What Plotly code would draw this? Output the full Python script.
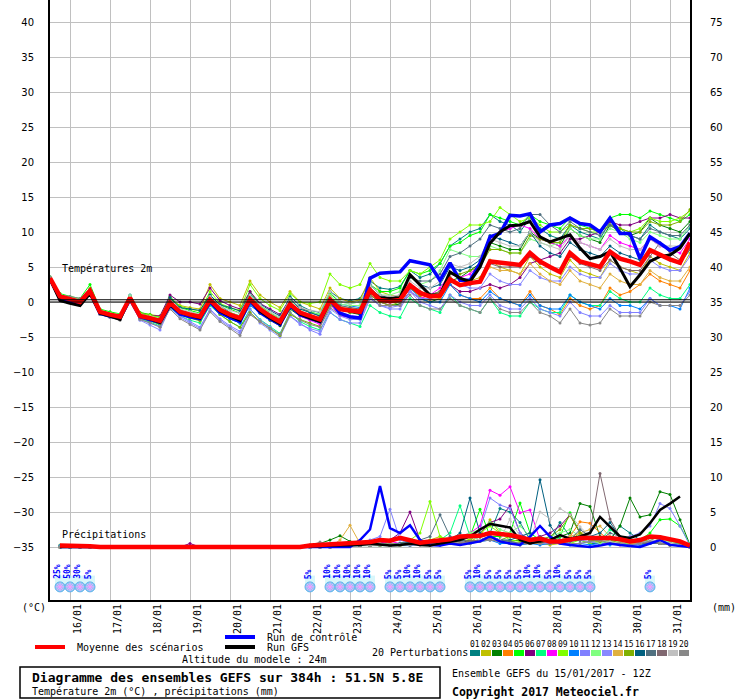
import plotly.graph_objects as go

# time axis: hours since 15/01/2017 12Z, one step every 6h up to 384h
hours = list(range(0, 385, 6))
precip_hours = hours[1:]

day_hours = [12, 36, 60, 84, 108, 132, 156, 180, 204, 228, 252, 276, 300, 324, 348, 372]
day_labels = ["16/01", "17/01", "18/01", "19/01", "20/01", "21/01", "22/01", "23/01",
              "24/01", "25/01", "26/01", "27/01", "28/01", "29/01", "30/01", "31/01"]

temp_ticks = [-35, -30, -25, -20, -15, -10, -5, 0, 5, 10, 15, 20, 25, 30, 35, 40]
mm_ticks = [0, 5, 10, 15, 20, 25, 30, 35, 40, 45, 50, 55, 60, 65, 70, 75]

pert_names = ["01", "02", "03", "04", "05", "06", "07", "08", "09", "10",
              "11", "12", "13", "14", "15", "16", "17", "18", "19", "20"]
pert_colors = ["#008080", "#c0c000", "#008000", "#ff8000", "#00ff00", "#800080", "#00ff80",
               "#ff00ff", "#80ff00", "#0080ff", "#8080ff", "#80ff80", "#8888ff", "#e0b040",
               "#80b000", "#006080", "#507080", "#806870", "#c0c0c0", "#888888"]

# snow probability icons
snow_hours = [6, 12, 18, 24, 156, 168, 174, 180, 186, 192, 204, 210, 216, 222, 228, 234,
              252, 258, 264, 270, 276, 282, 288, 294, 300, 306, 312, 318, 324, 360]
snow_pct = [25, 50, 30, 5, 5, 10, 10, 10, 10, 10, 5, 5, 10, 10, 5, 5,
            5, 10, 5, 5, 5, 5, 10, 10, 5, 10, 5, 5, 5, 5]

# ---- temperature 2m (degC) ----
t_mean = [3.4,
          0.8, 0.4, 0.0, 1.6, -1.4, -1.8, -2.1, 0.6, -2.0, -2.3, -2.7, -0.1, -1.4, -1.8, -2.1, 0.3,
          -1.1, -1.8, -2.3, 0.4, -1.0, -2.0, -2.8, -0.3, -1.5, -2.0, -2.5, 0.3, -1.0, -1.2, -1.4, 1.7,
          0.3, 0.1, 0.3, 2.4, 1.3, 0.8, 0.9, 3.2, 2.4, 2.7, 2.9, 5.8, 5.6, 5.4, 5.3, 7.0,
          5.8, 5.0, 4.3, 7.0, 5.8, 5.4, 5.0, 7.2, 6.2, 5.8, 5.3, 7.4, 6.7, 6.1, 5.6, 8.5]
t_ctrl = [3.3,
          0.5, 0.1, -0.3, 1.4, -1.6, -2.0, -2.3, 0.4, -2.1, -2.5, -2.9, -0.4, -1.7, -2.1, -2.4, 0.0,
          -1.5, -2.2, -2.8, 0.2, -1.5, -2.4, -3.2, -0.5, -1.8, -2.3, -2.8, 0.3, -1.6, -2.1, -2.3, 3.4,
          4.1, 4.2, 4.3, 5.9, 5.6, 5.3, 3.1, 5.6, 3.1, 3.1, 5.5, 9.3, 9.8, 12.4, 12.3, 12.6,
          10.0, 11.0, 11.2, 12.0, 11.2, 11.0, 10.0, 12.0, 9.8, 9.8, 6.2, 9.3, 8.4, 7.4, 7.9, 9.8]
t_gfs = [3.3,
         0.2, -0.2, -0.5, 1.2, -1.6, -2.0, -2.5, 0.6, -2.0, -2.4, -2.9, -0.4, -1.5, -1.9, -2.3, 0.2,
         -1.3, -2.0, -2.6, 0.3, -1.3, -2.3, -3.1, -0.4, -1.7, -2.3, -2.8, 0.3, -1.0, -1.3, -1.5, 1.5,
         0.6, 0.5, 0.6, 3.9, 2.4, 1.0, 1.0, 4.3, 3.4, 2.9, 5.0, 8.4, 10.0, 10.9, 11.0, 11.5,
         9.3, 8.6, 9.1, 9.6, 7.7, 6.2, 6.5, 7.2, 4.8, 2.2, 3.9, 5.8, 6.5, 6.7, 7.7, 9.8]

t01 = [3.2,
       0.6, 0.2, -0.3, 1.8, -1.6, -2.0, -2.3, 0.9, -2.2, -2.6, -3.0, 0.2, -1.2, -1.6, -2.4, 1.0,
       -0.5, -1.5, -2.0, 1.2, -0.8, -1.8, -2.5, 0.8, -0.5, -1.2, -1.5, 1.5, 0.5, 0.2, 0.5, 3.0,
       2.0, 1.8, 2.2, 4.5, 3.5, 4.0, 5.5, 8.0, 9.0, 10.0, 10.5, 12.5, 11.5, 11.0, 10.0, 12.0,
       10.5, 9.5, 9.0, 11.0, 10.0, 9.5, 9.0, 11.5, 10.5, 9.5, 9.0, 11.0, 10.0, 9.5, 9.0, 10.5]
t02 = [3.5,
       1.0, 0.6, 0.3, 1.5, -1.2, -1.6, -1.9, 0.4, -1.5, -1.8, -2.0, 0.5, -0.5, -0.8, -1.0, 2.5,
       0.5, 0.0, -0.5, 3.0, 1.0, 0.0, -0.8, 1.5, 0.0, -0.5, -1.0, 2.0, 0.5, 0.0, 0.3, 3.5,
       1.5, 1.0, 0.8, 2.5, 1.5, 1.0, 1.2, 3.5, 2.5, 3.0, 3.5, 6.0, 5.0, 4.5, 4.0, 6.5,
       5.0, 4.0, 3.5, 6.0, 4.5, 4.0, 3.5, 6.0, 5.0, 4.5, 4.0, 6.5, 5.5, 5.0, 4.5, 7.0]
t03 = [3.3,
       0.7, 0.3, -0.1, 1.4, -1.5, -1.9, -2.2, 0.4, -2.3, -2.7, -3.2, -0.5, -1.8, -2.2, -2.6, -0.3,
       -1.5, -2.4, -3.0, -0.2, -1.6, -2.6, -3.4, -1.0, -2.0, -2.5, -2.8, 0.0, -0.8, -1.5, -1.8, 1.0,
       0.0, -0.5, -0.3, 1.5, 0.5, 0.0, 0.5, 3.0, 3.5, 4.5, 5.5, 8.5, 8.0, 7.5, 7.5, 10.0,
       9.0, 8.5, 8.0, 10.5, 9.5, 9.0, 8.5, 11.0, 10.0, 9.5, 10.0, 12.0, 11.0, 10.5, 10.0, 11.5]
t04 = [3.4,
       0.9, 0.5, 0.1, 1.7, -1.3, -1.7, -2.0, 0.7, -1.9, -2.2, -2.5, 0.0, -1.3, -1.7, -2.0, 0.5,
       -0.9, -1.6, -2.1, 0.6, -0.8, -1.8, -2.6, -0.2, -1.4, -1.9, -2.3, 0.5, -0.8, -1.0, -1.2, 1.8,
       0.5, 0.2, 0.0, 2.0, 0.8, 0.3, 0.5, 2.5, 1.0, 0.5, 0.5, 2.0, 0.5, 0.0, -0.5, 1.5,
       -0.5, -1.0, -1.8, 0.5, -0.5, -1.0, -0.5, 2.0, 1.0, 1.5, 2.5, 4.0, 3.0, 2.5, 2.0, 4.5]
t05 = [3.6,
       1.2, 0.8, 0.5, 2.5, -1.0, -1.4, -1.7, 1.0, -1.5, -1.8, -2.2, 0.8, -0.8, -1.2, -1.6, 1.0,
       -0.4, -1.0, -1.6, 1.5, -0.5, -1.5, -2.4, 0.5, -0.8, -1.4, -1.8, 1.2, 0.0, -0.2, 0.0, 2.5,
       1.5, 1.5, 2.0, 4.5, 4.0, 4.5, 5.5, 8.0, 8.5, 9.5, 10.0, 12.5, 12.0, 11.5, 11.0, 12.5,
       11.5, 11.0, 10.5, 12.0, 11.0, 10.5, 10.0, 12.0, 12.5, 12.5, 12.0, 13.0, 12.5, 12.0, 11.5, 12.5]
t06 = [3.4,
       0.8, 0.4, 0.0, 1.5, -1.5, -1.9, -2.1, 0.5, -1.6, -1.9, -2.0, 1.0, 0.0, 0.0, -0.3, 2.0,
       0.2, -0.5, -1.0, 1.5, -0.2, -1.0, -1.8, 0.5, -0.8, -1.5, -2.0, 0.5, -0.8, -1.3, -1.5, 1.5,
       0.3, 0.0, 0.0, 2.0, 1.0, 0.8, 1.0, 2.5, 1.5, 1.5, 2.0, 2.5, 2.0, 2.5, 3.5, 5.5,
       6.0, 6.5, 7.0, 9.0, 9.0, 9.5, 10.0, 11.5, 11.0, 11.0, 11.5, 12.0, 12.0, 12.5, 12.0, 12.0]
t07 = [3.3,
       0.7, 0.2, -0.2, 1.6, -1.6, -2.0, -2.3, 0.5, -2.4, -2.9, -3.4, -0.8, -2.0, -2.6, -3.0, -0.5,
       -1.8, -2.8, -3.6, -1.0, -2.5, -3.5, -4.5, -1.5, -2.8, -3.5, -4.0, -1.5, -2.5, -3.0, -3.5, -0.5,
       -1.5, -2.0, -2.2, 0.5, -0.5, -1.0, -1.5, 1.0, -0.5, -1.0, -1.5, 0.5, -1.5, -2.0, -2.0, 0.0,
       -1.0, -1.5, -1.5, 1.0, 0.0, -0.5, -0.5, 1.5, 0.5, 0.0, 0.0, 2.0, 1.0, 0.5, 0.5, 2.5]
t08 = [3.4,
       0.3, 0.0, -0.3, 1.3, -1.6, -2.0, -2.3, 0.4, -2.2, -2.5, -2.9, -0.4, -1.6, -2.0, -2.3, 0.0,
       -1.4, -2.2, -2.6, 0.0, -1.3, -2.4, -3.2, -0.6, -2.0, -2.6, -3.2, -0.3, -2.0, -2.2, -2.4, 1.0,
       0.0, -0.5, -0.5, 1.5, 0.5, 1.0, 2.0, 4.0, 3.5, 4.0, 5.5, 9.0, 10.0, 10.5, 11.0, 10.5,
       9.0, 8.5, 8.0, 9.5, 8.5, 8.0, 7.5, 9.5, 8.5, 8.0, 7.5, 9.0, 8.0, 7.5, 7.0, 9.0]
t09 = [3.5,
       1.0, 0.6, 0.2, 2.0, -1.2, -1.6, -1.9, 0.8, -1.6, -1.9, -2.2, 0.5, -0.6, -1.0, -1.3, 1.5,
       -0.2, -0.8, -1.2, 2.5, 0.5, -0.5, -1.2, 1.2, 0.0, -0.2, 0.0, 4.0, 2.5, 2.0, 2.5, 5.5,
       3.5, 3.0, 3.0, 4.5, 4.0, 5.0, 6.0, 9.0, 10.0, 11.0, 11.0, 11.5, 13.5, 12.5, 11.5, 12.0,
       11.0, 10.0, 10.0, 11.0, 10.5, 10.0, 10.0, 11.0, 10.5, 10.0, 10.5, 12.0, 11.5, 11.5, 12.0, 13.0]
t10 = [3.2,
       0.6, 0.2, -0.2, 1.6, -1.5, -1.9, -2.2, 0.6, -2.1, -2.5, -2.9, 0.0, -1.6, -2.2, -2.5, -0.2,
       -1.6, -2.4, -3.0, -0.5, -1.5, -2.5, -3.2, -0.5, -1.8, -2.3, -2.6, 0.5, -0.3, -0.5, -0.8, 1.5,
       0.8, 0.5, 0.5, 2.0, 0.5, 0.0, 0.0, 2.5, 1.0, 0.5, 0.0, 1.5, 0.5, 0.0, -0.5, 1.0,
       -0.5, -1.0, -1.0, 1.0, 0.0, -0.5, -1.0, 0.5, -0.5, -0.5, -1.0, 0.5, -0.5, -0.5, -1.0, 2.0]
t11 = [3.3,
       0.5, 0.0, -0.4, 1.2, -1.8, -2.2, -2.5, 1.0, -2.5, -3.0, -3.5, -0.5, -2.0, -2.8, -3.6, -1.0,
       -2.4, -3.4, -4.2, -1.0, -2.6, -3.6, -4.8, -2.0, -3.0, -4.0, -4.6, -1.5, -2.5, -3.0, -3.0, 0.5,
       -0.5, -1.0, -1.0, 1.5, 0.0, -0.5, -1.0, 1.0, 0.0, -0.5, -0.5, 1.0, -0.5, -1.0, -1.0, 0.5,
       -1.0, -1.5, -2.0, 0.0, -1.5, -2.0, -2.0, -0.5, -1.5, -1.5, -1.5, 0.5, -0.5, -0.5, -0.5, 1.5]
t12 = [3.5,
       1.1, 0.6, 0.3, 1.9, -1.2, -1.6, -1.8, 0.9, -1.8, -2.1, -2.4, 0.3, -1.1, -1.5, -1.8, 0.8,
       -0.8, -1.5, -2.0, 0.8, -0.6, -1.6, -2.4, 0.3, -1.0, -1.5, -1.8, 1.0, -0.3, -0.5, -0.5, 2.5,
       1.0, 1.0, 1.5, 3.5, 2.5, 3.0, 4.5, 7.5, 7.0, 6.5, 6.5, 8.0, 7.5, 7.0, 7.0, 9.0,
       8.5, 8.0, 8.5, 10.5, 9.5, 9.0, 9.0, 10.5, 10.0, 9.0, 8.5, 10.0, 9.5, 9.0, 9.0, 11.0]
t13 = [3.1,
       0.5, 0.1, -0.3, 1.4, -1.7, -2.1, -2.4, 0.5, -2.6, -3.3, -4.0, -0.8, -2.2, -3.0, -3.8, -1.2,
       -2.6, -3.6, -4.5, -1.5, -3.0, -4.0, -5.0, -2.0, -3.2, -3.8, -4.2, -1.0, -2.0, -2.5, -2.5, 0.5,
       -0.5, -0.8, -0.5, 1.5, 0.5, 0.5, 1.0, 3.0, 2.5, 2.0, 2.0, 4.0, 3.0, 2.5, 2.5, 4.5,
       3.5, 3.0, 3.0, 5.0, 4.0, 3.5, 3.5, 5.5, 4.5, 4.0, 4.0, 6.0, 5.0, 4.5, 4.5, 6.5]
t14 = [3.4,
       0.8, 0.4, 0.0, 1.5, -1.7, -2.1, -2.4, 0.5, -2.0, -2.3, -2.6, 0.2, -1.2, -1.6, -1.9, 0.6,
       -1.0, -1.7, -2.2, 0.4, -1.0, -2.0, -2.8, 0.0, -1.3, -1.8, -2.2, 0.8, -0.6, -0.8, -1.0, 2.0,
       0.8, 0.5, 0.5, 2.5, 1.5, 1.0, 1.5, 3.5, 2.5, 2.5, 3.0, 5.0, 4.5, 4.5, 4.0, 5.5,
       4.0, 3.0, 2.5, 4.5, 3.0, 2.5, 2.0, 4.0, 3.0, 2.5, 2.5, 4.5, 3.5, 3.0, 3.0, 5.0]
t15 = [3.3,
       0.6, 0.2, -0.2, 1.3, -1.6, -2.0, -2.3, 0.5, -2.3, -2.7, -3.1, -0.5, -1.8, -2.3, -2.7, -0.2,
       -1.8, -2.8, -3.6, -1.5, -2.8, -3.8, -4.8, -1.8, -2.5, -3.0, -3.5, -0.5, -1.0, -1.5, -1.5, 1.0,
       0.0, -0.5, 0.0, 2.0, 1.0, 1.0, 1.5, 4.0, 4.0, 4.5, 5.0, 7.5, 7.5, 7.0, 7.0, 9.5,
       9.0, 8.5, 8.5, 11.0, 10.5, 10.5, 10.0, 11.0, 10.5, 10.0, 10.0, 11.5, 11.0, 11.0, 11.5, 13.2]
t16 = [3.4,
       0.7, 0.3, -0.1, 1.7, -1.4, -1.8, -2.1, 0.6, -1.9, -2.2, -2.4, 0.6, -0.8, -1.0, -1.2, 1.0,
       -0.4, -0.8, -1.3, 1.0, -0.3, -1.2, -2.0, 0.5, -1.0, -1.5, -2.0, 0.5, -1.0, -1.2, -1.3, 2.5,
       1.0, 0.5, 0.5, 3.8, 2.5, 2.0, 2.5, 5.0, 4.5, 5.0, 6.0, 9.5, 9.0, 8.5, 8.0, 10.0,
       8.0, 7.0, 6.5, 8.5, 7.5, 7.0, 6.5, 8.0, 7.0, 6.5, 6.0, 7.5, 6.5, 6.0, 5.5, 7.5]
t17 = [3.4,
       0.6, 0.2, -0.2, 1.5, -1.5, -1.9, -2.2, 0.5, -2.0, -2.4, -2.8, 0.3, -1.2, -1.6, -2.0, 0.5,
       -1.0, -1.8, -2.4, 0.3, -1.2, -2.2, -3.0, -0.5, -1.6, -2.2, -2.6, 0.3, -0.5, -0.8, -1.0, 2.0,
       0.8, 0.5, 1.0, 3.5, 3.0, 3.0, 4.0, 6.5, 7.0, 8.0, 9.0, 11.0, 10.5, 10.0, 10.5, 12.5,
       12.5, 11.0, 10.0, 11.5, 10.5, 10.0, 9.5, 11.0, 10.0, 9.5, 9.0, 10.5, 10.0, 9.5, 9.5, 11.0]
t18 = [3.3,
       0.7, 0.3, -0.1, 1.5, -1.6, -2.0, -2.3, 0.6, -2.2, -2.6, -3.0, -0.3, -1.6, -2.0, -2.4, 0.2,
       -1.2, -2.0, -2.6, 0.2, -1.2, -2.2, -3.0, -0.5, -1.8, -2.4, -2.8, 0.3, -1.0, -1.2, -1.4, 1.5,
       0.2, 0.0, 0.0, 2.5, 1.5, 1.0, 1.5, 3.5, 2.5, 2.5, 3.0, 5.5, 5.0, 5.0, 5.0, 6.5,
       5.5, 5.0, 4.5, 6.5, 5.5, 5.0, 4.5, 6.0, 5.0, 4.5, 4.5, 6.5, 8.5, 7.0, 6.0, 7.5]
t19 = [3.5,
       1.0, 0.6, 0.2, 1.8, -1.3, -1.7, -2.0, 0.7, -1.8, -2.1, -2.4, 0.2, -1.0, -1.4, -1.7, 0.8,
       -0.6, -1.2, -1.6, 1.0, -0.4, -1.4, -2.2, 0.5, -0.8, -1.2, -1.4, 1.5, 0.0, -0.2, 0.0, 2.5,
       1.0, 0.8, 1.0, 3.0, 2.0, 2.0, 3.0, 5.5, 5.0, 5.5, 6.5, 9.0, 8.5, 8.0, 8.0, 10.0,
       8.5, 8.0, 7.5, 9.5, 8.5, 8.0, 7.5, 9.0, 8.0, 7.5, 7.5, 9.0, 8.0, 8.0, 8.0, 9.5]
t20 = [3.6,
       1.0, 0.8, 0.5, 1.9, -1.8, -2.2, -2.6, 0.2, -2.5, -3.0, -3.6, -1.0, -2.4, -3.2, -4.0, -1.4,
       -2.8, -3.8, -4.8, -1.8, -2.8, -3.8, -4.6, -1.5, -2.6, -3.2, -3.6, -0.8, -1.8, -2.2, -2.2, 0.8,
       -0.5, -0.5, -0.5, 1.0, -0.5, -1.0, -1.0, 0.5, -0.5, -1.0, -1.5, 0.5, -1.0, -1.5, -1.5, 0.0,
       -1.5, -2.0, -3.0, -1.0, -3.0, -3.3, -3.0, -1.0, -2.0, -2.0, -2.0, 0.0, -0.5, -0.5, -0.5, 1.0]

# ---- precipitation (mm per 6h), from +6h ----
p_mean = [0.2, 0.2, 0.1, 0.1, 0, 0, 0, 0, 0, 0, 0, 0, 0, 0.1, 0, 0,
          0, 0, 0, 0, 0, 0, 0, 0, 0, 0.2, 0.3, 0.3, 0.5, 0.6, 0.6, 0.7,
          1.0, 0.9, 1.3, 1.0, 0.6, 0.8, 1.0, 1.1, 1.5, 1.5, 1.6, 2.0, 1.9, 1.7, 1.4, 1.0,
          1.2, 0.8, 0.8, 1.1, 1.3, 1.3, 1.3, 1.3, 1.1, 0.8, 1.0, 1.5, 1.4, 1.1, 0.8, 0.2]
p_ctrl = [0, 0, 0, 0, 0, 0, 0, 0, 0, 0, 0, 0, 0, 0, 0, 0,
          0, 0, 0, 0, 0, 0, 0, 0, 0, 0, 0, 0, 0, 0, 1.0, 2.5,
          8.7, 2.7, 2.0, 3.1, 1.0, 0.3, 0.2, 0.5, 0.3, 0.5, 0.8, 1.5, 0.8, 0.5, 0.3, 1.5,
          3.0, 1.5, 0.5, 0.3, 0.2, 0, 0.2, 0.5, 0.3, 0.2, 0, 0.5, 1.0, 0.3, 0.2, 0]
p_gfs = [0, 0, 0, 0, 0, 0, 0, 0, 0, 0, 0, 0, 0, 0, 0, 0,
         0, 0, 0, 0, 0, 0, 0, 0, 0, 0, 0.1, 0.2, 0.2, 0.3, 0.3, 0.5,
         0.3, 0.2, 0.3, 0.5, 0.3, 0.2, 0.5, 0.8, 1.0, 1.5, 2.5, 3.3, 3.0, 2.8, 1.0, 0.5,
         0.8, 1.0, 1.7, 1.2, 1.5, 2.0, 4.3, 2.9, 1.5, 1.3, 1.8, 3.4, 5.3, 6.2, 7.2, None]

p01 = [0.2, 0, 0, 0, 0, 0, 0, 0, 0, 0, 0, 0, 0, 0, 0, 0,
       0, 0, 0, 0, 0, 0, 0, 0, 0, 0, 0, 0.2, 0.3, 0.2, 0.5, 0.5,
       0.8, 0.5, 0.3, 0.8, 0.5, 0.5, 1.0, 0.8, 1.0, 1.5, 1.5, 2.0, 5.5, 5.0, 3.5, 1.0,
       0.5, 1.0, 3.5, 1.5, 1.0, 0.5, 0.5, 1.0, 3.0, 2.0, 1.0, 1.5, 1.0, 0.5, 0.5, 0]
p02 = [0.3, 0.2, 0, 0, 0, 0, 0, 0, 0, 0, 0, 0, 0, 0, 0, 0,
       0, 0, 0, 0, 0, 0, 0, 0, 0, 0, 0.2, 0.3, 0.5, 0.3, 0.2, 0.5,
       0.5, 0.3, 0.5, 1.0, 0.5, 1.0, 1.5, 0.5, 1.0, 0.8, 1.5, 3.9, 2.0, 1.5, 1.0, 0.5,
       0.5, 0.3, 0.5, 1.0, 2.0, 1.5, 1.0, 0.5, 0.5, 0.3, 0.5, 1.0, 0.5, 0.3, 0.2, 0]
p03 = [0, 0, 0, 0, 0, 0, 0, 0, 0, 0, 0, 0, 0, 0, 0, 0,
       0, 0, 0, 0, 0, 0, 0, 0, 0, 0.3, 0.5, 1.0, 1.6, 0.8, 0.3, 0.2,
       0.2, 0.3, 0.5, 0.3, 0.5, 0.8, 0.5, 1.0, 0.8, 0.5, 1.0, 1.5, 1.0, 0.8, 1.0, 0.5,
       0.5, 1.0, 1.5, 2.0, 6.2, 5.8, 1.5, 1.0, 3.0, 7.0, 4.3, 4.6, 7.9, 7.5, 3.9, 0.3]
p04 = [0, 0, 0, 0.2, 0, 0, 0, 0, 0, 0, 0, 0, 0, 0, 0, 0,
       0, 0, 0, 0, 0, 0, 0, 0, 0, 0, 0, 0, 0.2, 0.3, 0.2, 0.3,
       0.5, 0.3, 0.2, 0.5, 0.3, 0.5, 0.8, 0.5, 0.5, 1.0, 0.8, 1.2, 1.0, 0.5, 0.3, 0.5,
       0.8, 0.5, 1.0, 1.5, 3.6, 3.4, 2.0, 1.0, 0.5, 0.8, 0.5, 1.0, 0.5, 0.3, 0.2, 0]
p05 = [0, 0, 0, 0, 0, 0, 0, 0, 0, 0, 0, 0, 0, 0, 0, 0,
       0, 0, 0, 0, 0, 0, 0, 0, 0, 0, 0, 0, 0.2, 0.2, 0.3, 0.2,
       0.3, 0.5, 0.3, 0.5, 0.5, 1.0, 0.5, 0.8, 1.0, 1.5, 5.4, 1.5, 1.5, 2.0, 6.3, 2.0,
       1.0, 0.5, 1.5, 4.9, 2.0, 1.0, 0.5, 0.8, 1.0, 0.5, 1.0, 2.0, 3.9, 4.0, 3.0, 0.3]
p06 = [0, 0, 0, 0, 0, 0, 0, 0, 0, 0, 0, 0, 0, 0.5, 0, 0,
       0, 0, 0, 0, 0, 0, 0, 0, 0, 0, 0, 0, 0.3, 0.2, 0.3, 0.5,
       0.5, 1.0, 2.0, 5.0, 1.0, 0.5, 0.3, 0.5, 0.5, 1.0, 2.0, 3.5, 4.0, 5.9, 2.0, 1.0,
       1.5, 2.0, 3.0, 4.6, 2.0, 1.0, 0.5, 0.5, 0.5, 0.3, 0.5, 1.0, 1.5, 1.0, 0.5, 0]
p07 = [0, 0, 0, 0, 0, 0, 0, 0, 0, 0, 0, 0, 0, 0, 0, 0,
       0, 0, 0, 0, 0, 0, 0, 0, 0, 0, 0, 0, 0.2, 0.3, 0.2, 0.3,
       0.3, 0.2, 0.5, 0.3, 0.5, 0.8, 1.0, 2.0, 5.9, 1.5, 1.0, 1.5, 1.0, 0.8, 0.5, 0.5,
       0.8, 0.5, 0.8, 1.0, 1.5, 1.0, 1.0, 2.5, 1.5, 1.0, 0.5, 0.5, 0.5, 0.3, 0.2, 0]
p08 = [0, 0, 0, 0, 0, 0, 0, 0, 0, 0, 0, 0, 0, 0, 0, 0,
       0, 0, 0, 0, 0, 0, 0, 0, 0, 0, 0, 0, 0.2, 0.2, 0.2, 0.3,
       0.5, 0.8, 0.5, 0.3, 0.5, 0.3, 0.5, 1.0, 1.5, 2.0, 3.0, 8.1, 7.4, 8.6, 4.9, 5.3,
       1.0, 0.5, 0.5, 1.0, 1.0, 1.5, 0.5, 0.5, 0.3, 0.5, 0.8, 0.5, 0.5, 0.3, 0.2, 0]
p09 = [0, 0, 0, 0, 0, 0, 0, 0, 0, 0, 0, 0, 0, 0, 0, 0,
       0, 0, 0, 0, 0, 0, 0, 0, 0, 0, 0, 0, 0.2, 0.5, 0.3, 0.3,
       0.3, 0.5, 0.5, 1.0, 2.0, 6.5, 1.5, 1.0, 1.5, 1.0, 2.0, 3.0, 2.0, 1.0, 0.8, 0.5,
       0.5, 1.0, 0.8, 0.5, 1.0, 0.5, 1.0, 0.8, 0.5, 0.5, 1.0, 0.8, 0.5, 0.5, 0.3, 0]
p10 = [0.2, 0.1, 0, 0, 0, 0, 0, 0, 0, 0, 0, 0, 0, 0, 0, 0,
       0, 0, 0, 0, 0, 0, 0, 0, 0, 0, 0, 0, 0.2, 0.1, 0.2, 0.2,
       0.3, 0.2, 0.3, 0.2, 0.5, 0.3, 0.3, 0.5, 0.8, 0.5, 0.8, 1.0, 0.5, 0.5, 0.3, 0.5,
       0.3, 0.5, 0.5, 0.3, 0.5, 0.3, 0.5, 0.3, 0.5, 0.3, 0.3, 0.5, 0.5, 0.3, 0.2, 0]
p11 = [0, 0, 0, 0, 0, 0, 0, 0, 0, 0, 0, 0, 0, 0, 0, 0,
       0, 0, 0, 0, 0, 0, 0, 0, 0, 0, 0, 0, 0.3, 0.2, 0.5, 1.0,
       1.5, 5.4, 1.0, 0.5, 0.5, 0.8, 0.5, 1.0, 1.0, 1.5, 2.5, 7.0, 6.0, 5.5, 2.0, 1.0,
       0.5, 0.5, 0.8, 1.0, 1.0, 0.8, 0.5, 1.0, 1.0, 1.5, 2.0, 3.0, 6.2, 5.5, 3.0, 0.2]
p12 = [0, 0, 0, 0, 0, 0, 0, 0, 0, 0, 0, 0, 0, 0, 0, 0,
       0, 0, 0, 0, 0, 0, 0, 0, 0, 0, 0, 0, 0.2, 0.2, 0.3, 0.2,
       0.2, 0.3, 0.5, 0.5, 1.0, 0.5, 0.8, 1.0, 1.5, 2.0, 2.5, 3.5, 2.5, 2.0, 3.0, 1.5,
       1.0, 1.5, 2.0, 2.5, 1.5, 1.0, 0.5, 1.0, 0.8, 0.5, 0.8, 1.5, 1.0, 0.8, 0.5, 0]
p13 = [0, 0, 0, 0, 0, 0, 0, 0, 0, 0, 0, 0, 0, 0, 0, 0,
       0, 0, 0, 0, 0, 0, 0, 0, 0, 0, 0, 0, 0.2, 0.2, 0.2, 0.2,
       0.3, 0.3, 0.5, 0.3, 0.3, 0.5, 0.3, 0.5, 0.8, 0.5, 1.0, 1.5, 1.0, 0.8, 0.5, 0.5,
       0.5, 0.8, 0.5, 0.5, 0.5, 0.8, 1.0, 0.5, 0.5, 0.3, 0.5, 1.0, 0.8, 0.5, 0.3, 0]
p14 = [0, 0, 0, 0, 0, 0, 0, 0, 0, 0, 0, 0, 0, 0, 0, 0,
       0, 0, 0, 0, 0, 0, 0, 0, 0, 0, 0, 0, 1.0, 3.1, 0.5, 0.3,
       0.3, 0.5, 0.3, 0.5, 0.5, 0.3, 0.5, 0.8, 0.5, 0.8, 1.0, 1.5, 1.0, 0.8, 0.5, 0.5,
       0.5, 0.8, 1.0, 1.5, 2.0, 2.5, 3.0, 1.5, 1.0, 0.5, 0.5, 0.8, 0.5, 0.3, 0.2, 0]
p15 = [0, 0, 0, 0, 0, 0, 0, 0, 0, 0, 0, 0, 0, 0, 0, 0,
       0, 0, 0, 0, 0, 0, 0, 0, 0, 0, 0, 0, 0.2, 0.2, 0.3, 0.2,
       0.3, 0.3, 0.2, 0.5, 0.5, 0.3, 0.5, 0.8, 1.0, 0.8, 1.0, 1.5, 1.0, 1.5, 1.0, 0.8,
       1.0, 1.5, 2.5, 4.5, 2.0, 1.0, 0.8, 1.0, 0.5, 1.0, 0.8, 1.0, 1.5, 1.0, 0.5, 0]
p16 = [0, 0, 0, 0, 0, 0, 0, 0, 0, 0, 0, 0, 0, 0, 0, 0,
       0, 0, 0, 0, 0, 0, 0, 0, 0, 0, 0, 0, 0.2, 0.3, 0.2, 0.5,
       0.5, 0.3, 0.5, 0.8, 0.8, 0.5, 0.5, 1.0, 2.0, 7.0, 2.0, 1.5, 1.0, 1.0, 1.5, 2.0,
       9.6, 3.1, 1.0, 0.8, 1.0, 1.5, 2.0, 3.5, 1.5, 1.0, 0.5, 0.8, 0.5, 0.5, 0.3, 0]
p17 = [0, 0, 0, 0, 0, 0, 0, 0, 0, 0, 0, 0, 0, 0, 0, 0,
       0, 0, 0, 0, 0, 0, 0, 0, 0, 0, 0, 0, 0.3, 0.2, 0.2, 0.3,
       0.5, 0.3, 0.5, 0.8, 1.0, 1.5, 4.6, 1.5, 1.0, 0.8, 1.0, 1.5, 1.0, 0.8, 0.5, 1.0,
       1.5, 1.0, 0.8, 1.0, 2.5, 1.5, 1.0, 2.0, 1.5, 1.0, 0.5, 0.5, 0.5, 0.3, 0.2, 0]
p18 = [0, 0, 0, 0, 0, 0, 0, 0, 0, 0, 0, 0, 0, 0, 0, 0,
       0, 0, 0, 0, 0, 0, 0, 0, 0, 0, 0, 0, 0.2, 0.2, 0.2, 0.2,
       0.3, 0.2, 0.3, 0.3, 0.5, 0.3, 0.5, 0.5, 0.5, 0.8, 1.0, 1.0, 0.8, 0.5, 0.5, 0.5,
       0.8, 0.5, 0.8, 1.0, 1.0, 2.0, 10.5, 4.0, 1.5, 1.0, 0.5, 0.8, 0.5, 0.5, 0.3, 0]
p19 = [0, 0, 0, 0, 0, 0, 0, 0, 0, 0, 0, 0, 0, 0, 0, 0,
       0, 0, 0, 0, 0, 0, 0, 0, 0, 0, 0, 0, 0.2, 0.2, 0.3, 0.3,
       0.5, 0.3, 0.3, 0.5, 0.5, 0.8, 0.5, 0.8, 1.0, 1.5, 1.0, 1.5, 1.0, 4.0, 1.5, 1.0,
       5.0, 4.0, 5.5, 4.6, 2.9, 1.5, 1.0, 0.8, 0.5, 0.8, 0.5, 1.0, 0.8, 0.5, 0.3, 0]
p20 = [0, 0, 0, 0, 0, 0, 0, 0, 0, 0, 0, 0, 0, 0, 0, 0,
       0, 0, 0, 0, 0, 0, 0, 0, 0, 0.2, 0.7, 0.3, 0.2, 0.2, 0.3, 0.2,
       0.3, 0.5, 0.3, 0.3, 0.5, 0.8, 0.5, 0.5, 0.8, 0.5, 0.8, 1.0, 0.8, 0.5, 0.5, 0.8,
       0.5, 0.8, 1.0, 0.5, 0.5, 0.8, 1.0, 0.5, 0.5, 0.3, 0.5, 0.8, 0.5, 0.3, 0.2, 0]

temps = [t01, t02, t03, t04, t05, t06, t07, t08, t09, t10,
         t11, t12, t13, t14, t15, t16, t17, t18, t19, t20]
precs = [p01, p02, p03, p04, p05, p06, p07, p08, p09, p10,
         p11, p12, p13, p14, p15, p16, p17, p18, p19, p20]

for s in temps + [t_mean, t_ctrl, t_gfs]:
    assert len(s) == len(hours), len(s)
for s in precs + [p_mean, p_ctrl, p_gfs]:
    assert len(s) == len(precip_hours), len(s)

# ---- page geometry (pixels of the 740x700 page) ----
L, R, T, B = 50, 690, 0, 600
Y_RANGE = [-42.571, 43.143]          # 7 px per degree, 0 degC at y=302
MONO = "DejaVu Sans Mono"


def px(x):
    return (x - L) / (R - L)


def py(y):
    return (B - y) / (B - T)


fig = go.Figure()

for name, col, t in zip(pert_names, pert_colors, temps):
    fig.add_trace(go.Scatter(x=hours, y=t, mode="lines+markers", name=name,
                             line=dict(color=col, width=1), marker=dict(color=col, size=3),
                             hoverinfo="skip"))
for name, col, p in zip(pert_names, pert_colors, precs):
    fig.add_trace(go.Scatter(x=precip_hours, y=p, yaxis="y2", mode="lines+markers", name=name,
                             line=dict(color=col, width=1), marker=dict(color=col, size=3),
                             hoverinfo="skip"))

fig.add_trace(go.Scatter(x=hours, y=t_ctrl, mode="lines", line=dict(color="#0000ff", width=3.5)))
fig.add_trace(go.Scatter(x=precip_hours, y=p_ctrl, yaxis="y2", mode="lines",
                         line=dict(color="#0000ff", width=2.5)))
fig.add_trace(go.Scatter(x=hours, y=t_gfs, mode="lines", line=dict(color="#000000", width=3)))
fig.add_trace(go.Scatter(x=precip_hours, y=p_gfs, yaxis="y2", mode="lines",
                         line=dict(color="#000000", width=2.5)))
fig.add_trace(go.Scatter(x=hours, y=t_mean, mode="lines", line=dict(color="#ff0000", width=4.5)))
fig.add_trace(go.Scatter(x=precip_hours, y=p_mean, yaxis="y2", mode="lines",
                         line=dict(color="#ff0000", width=4.5)))

# snow icons on a pale strip
SNOW_Y = -40.7
fig.add_trace(go.Scatter(x=snow_hours, y=[SNOW_Y + 0.9 for _ in snow_hours], mode="markers",
                         marker=dict(symbol="square", size=10, color="#d8f6fa",
                                     line=dict(width=0)),
                         hoverinfo="skip", cliponaxis=False))
fig.add_trace(go.Scatter(x=snow_hours, y=[SNOW_Y for _ in snow_hours], mode="markers",
                         marker=dict(symbol="circle", size=10, color="#8ecdf4",
                                     line=dict(color="#5fb0ea", width=1)),
                         hoverinfo="skip", cliponaxis=False))
fig.add_trace(go.Scatter(x=snow_hours, y=[SNOW_Y for _ in snow_hours], mode="markers",
                         marker=dict(symbol="asterisk-open", size=7,
                                     line=dict(color="#eefaff", width=1)),
                         hoverinfo="skip", cliponaxis=False))

shapes = []
# double 0 degC line
for yv in (0.0, 0.32):
    shapes.append(dict(type="line", xref="x", yref="y", x0=0, x1=384, y0=yv, y1=yv,
                       line=dict(color="black", width=1)))

annotations = []
for h, lab in zip(day_hours, day_labels):
    annotations.append(dict(x=h + 4.2, y=py(602), xref="x", yref="paper", text=lab,
                            textangle=-90, xanchor="center", yanchor="top", showarrow=False,
                            font=dict(family=MONO, size=10, color="black")))
for h, p in zip(snow_hours, snow_pct):
    annotations.append(dict(x=h - 1.2, y=-39.9, xref="x", yref="y", text=f"<b>{p}%</b>",
                            textangle=-90, xanchor="center", yanchor="bottom", showarrow=False,
                            font=dict(family=MONO, size=8, color="#0000ff")))


def label(x, y, text, size=10, anchor="left"):
    annotations.append(dict(x=px(x), y=py(y), xref="paper", yref="paper", text=text,
                            xanchor=anchor, yanchor="middle", showarrow=False,
                            font=dict(family=MONO, size=size, color="black")))


label(60, 268, "Températures 2m")
label(60, 534, "Précipitations")
label(20, 607, "(°C)")
label(710, 607, "(mm)")

# legend
shapes.append(dict(type="line", xref="paper", yref="paper", x0=px(35), x1=px(65),
                   y0=py(647), y1=py(647), line=dict(color="#ff0000", width=4)))
shapes.append(dict(type="line", xref="paper", yref="paper", x0=px(225), x1=px(255),
                   y0=py(637), y1=py(637), line=dict(color="#0000ff", width=4)))
shapes.append(dict(type="line", xref="paper", yref="paper", x0=px(225), x1=px(255),
                   y0=py(647), y1=py(647), line=dict(color="#000000", width=4)))
label(75, 647, "Moyenne des scénarios")
label(265, 637, "Run de contrôle")
label(265, 647, "Run GFS")
label(180, 659, "Altitude du modele : 24m")

shapes.append(dict(type="rect", xref="paper", yref="paper", x0=px(20), x1=px(440),
                   y0=py(698), y1=py(667), line=dict(color="black", width=1.5)))
label(30, 678, "<b>Diagramme des ensembles GEFS sur 384h : 51.5N 5.8E</b>", size=13)
label(30, 691, "Température 2m (°C) , précipitations (mm)")

label(370, 652, "20 Perturbations")
for k, (name, col) in enumerate(zip(pert_names, pert_colors)):
    shapes.append(dict(type="rect", xref="paper", yref="paper", x0=px(470 + 11 * k),
                       x1=px(480 + 11 * k), y0=py(656), y1=py(650),
                       fillcolor=col, line=dict(width=0)))
    label(475 + 11 * k, 644, name, size=8, anchor="center")
label(450, 673, "Ensemble GEFS du 15/01/2017 - 12Z")
label(450, 692, "<b>Copyright 2017 Meteociel.fr</b>", size=11.5)

fig.update_layout(
    width=740, height=700,
    margin=dict(l=L, r=740 - R, t=T, b=700 - B, autoexpand=False),
    paper_bgcolor="white", plot_bgcolor="white",
    showlegend=False,
    shapes=shapes, annotations=annotations,
    xaxis=dict(range=[0, 384], tickvals=day_hours, showticklabels=False, ticks="",
               showgrid=True, gridcolor="#c0c0c0", gridwidth=1, zeroline=False,
               showline=True, linecolor="black", linewidth=2),
    yaxis=dict(range=Y_RANGE, tickvals=temp_ticks, ticks="", ticklabelstandoff=12,
               showgrid=True, gridcolor="#c0c0c0", gridwidth=1, zeroline=False,
               showline=True, linecolor="black", linewidth=2,
               tickfont=dict(family="DejaVu Sans", size=10, color="black")),
    yaxis2=dict(range=[Y_RANGE[0] + 35, Y_RANGE[1] + 35], tickvals=mm_ticks, ticks="",
                overlaying="y", side="right", ticklabelstandoff=16,
                showgrid=False, zeroline=False,
                showline=True, linecolor="black", linewidth=2,
                tickfont=dict(family="DejaVu Sans", size=10, color="black")),
)

# the page body has a default 8px margin; drop it so the 740x700 figure fills the window
fig.write_html("out.html", config={"displayModeBar": False},
               post_script="document.body.style.margin='0';")
